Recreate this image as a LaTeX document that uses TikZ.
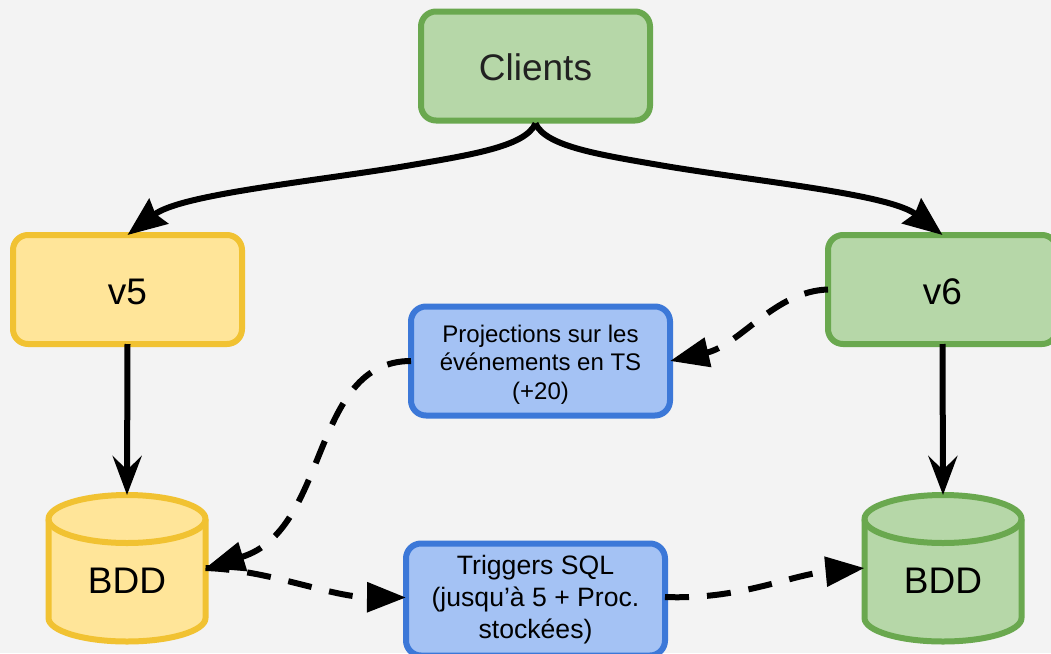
\documentclass[tikz,border=0pt]{standalone}
\usepackage{fontspec}
\setmainfont{Liberation Sans}
\usetikzlibrary{arrows.meta}
\definecolor{bgc}{HTML}{F3F3F3}
\definecolor{yf}{HTML}{FFE599}
\definecolor{ys}{HTML}{F1C232}
\definecolor{gf}{HTML}{B6D7A8}
\definecolor{gs}{HTML}{6AA84F}
\definecolor{bf}{HTML}{A4C2F4}
\definecolor{bs}{HTML}{3C78D8}
\tikzset{
  every node/.style={inner sep=0pt,outer sep=0pt},
  bigbox/.style={draw,rounded corners=15pt,line width=6pt,minimum width=229pt,minimum height=109pt,text height=29pt,text depth=0pt,font=\fontsize{37}{40}\selectfont},
  smallbox/.style={draw=bs,fill=bf,rounded corners=15pt,line width=6pt,minimum width=259pt,minimum height=109pt,align=center},
  ybox/.style={bigbox,draw=ys,fill=yf},
  gbox/.style={bigbox,draw=gs,fill=gf},
  dbanchor/.style={minimum width=157pt,minimum height=146pt},
  dbtext/.style={font=\fontsize{37}{40}\selectfont},
  cyl/.style={line width=6pt,line join=round},
  solidarrow/.style={line width=6pt,-{Stealth[length=39pt,width=29pt,inset=14pt]}},
  curvearrow/.style={line width=6pt,-{Stealth[length=39pt,width=31pt,inset=4pt]}},
  dasharrow/.style={line width=6pt,dash pattern=on 24pt off 18pt,-{Triangle[length=39pt,width=29pt]}},
}
\newcommand{\dbshape}[3]{%
  \path[cyl,draw=#2,fill=#3] (#1-78.5,519) -- (#1-78.5,618)
    .. controls (#1-78.5,631) and (#1-43,641.5) .. (#1,641.5)
    .. controls (#1+43,641.5) and (#1+78.5,631) .. (#1+78.5,618)
    -- (#1+78.5,519)
    .. controls (#1+78.5,506) and (#1+43,495) .. (#1,495)
    .. controls (#1-43,495) and (#1-78.5,506) .. (#1-78.5,519) -- cycle;
  \path[cyl,draw=#2] (#1-78.5,519)
    .. controls (#1-78.5,532) and (#1-43,543) .. (#1,543)
    .. controls (#1+43,543) and (#1+78.5,532) .. (#1+78.5,519);
}
\begin{document}
\begin{tikzpicture}[x=1pt,y=-1pt]
\path[use as bounding box] (0,0) rectangle (1051,653);
\clip (0,0) rectangle (1051,653);
\fill[bgc] (0,0) rectangle (1051,653);
\node[gbox,text=black!87] (clients) at (535.5,66) {Clients};
\node[ybox] (v5) at (127.5,289.5) {v5};
\node[gbox] (v6) at (942.5,289.5) {v6};
\node[smallbox,font=\fontsize{24}{28.5}\selectfont] (proj) at (540.5,361) {\rule{0pt}{24pt}Projections sur les\\événements en TS\\(+20)};
\node[smallbox,minimum height=112pt,font=\fontsize{26.6}{32}\selectfont] (trig) at (535.5,599.5) {Triggers SQL\\(jusqu’à 5 + Proc.\\stockées)};
\dbshape{127}{ys}{yf}
\dbshape{943}{gs}{gf}
\node[dbanchor] (bddl) at (127,568) {};
\node[dbanchor] (bddr) at (943,568) {};
\node[dbtext] (bddltext) at (127,581) {BDD};
\node[dbtext] (bddrtext) at (943,581) {BDD};
\draw[curvearrow] ([yshift=-3pt]clients.south) .. controls (525,147) and (470,155) .. (400,167)
  .. controls (300,183) and (180,195) .. (v5.north);
\draw[curvearrow] ([yshift=-3pt]clients.south) .. controls (546,147) and (601,155) .. (671,167)
  .. controls (771,183) and (891,195) .. (v6.north);
\draw[solidarrow] (v5.south) -- (bddl.north);
\draw[solidarrow] (v6.south) -- (bddr.north);
\draw[dasharrow] (v6.west) .. controls (775,291) and (740,345) .. (proj.east);
\draw[dasharrow] (proj.west) .. controls (310,361) and (330,530) .. (bddl.east);
\draw[dasharrow] (bddl.east) .. controls (270,570) and (330,597) .. ([yshift=2pt]trig.west);
\draw[dasharrow] ([yshift=2.5pt]trig.east) .. controls (740,600) and (790,575) .. (bddr.west);
\end{tikzpicture}
\end{document}
